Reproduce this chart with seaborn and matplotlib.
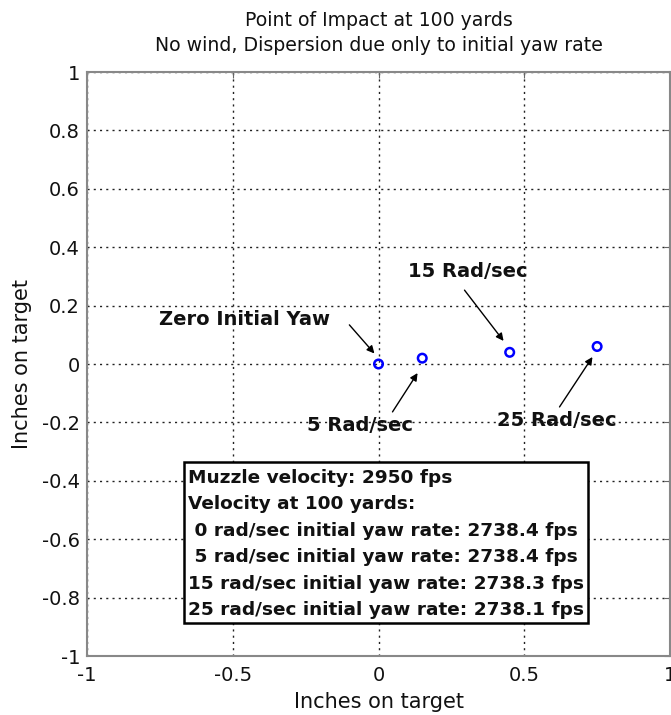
import matplotlib
matplotlib.use("Agg")
import matplotlib.pyplot as plt
import seaborn as sns
import pandas as pd
from matplotlib.ticker import FuncFormatter
from matplotlib.patches import Rectangle

# Data
yaw_rates = ["Zero Initial Yaw", "5 Rad/sec", "15 Rad/sec", "25 Rad/sec"]
x_impact = [0.0, 0.15, 0.45, 0.75]
y_impact = [0.0, 0.02, 0.04, 0.06]
x_ticks = [-1, -0.5, 0, 0.5, 1]
y_ticks = [-1, -0.8, -0.6, -0.4, -0.2, 0, 0.2, 0.4, 0.6, 0.8, 1]
box_lines = [
    "Muzzle velocity: 2950 fps",
    "Velocity at 100 yards:",
    " 0 rad/sec initial yaw rate: 2738.4 fps",
    " 5 rad/sec initial yaw rate: 2738.4 fps",
    "15 rad/sec initial yaw rate: 2738.3 fps",
    "25 rad/sec initial yaw rate: 2738.1 fps",
]

# Layout (annotation placement, data coordinates)
label_xy = [(-0.46, 0.154), (-0.062, -0.209), (0.305, 0.318), (0.611, -0.195)]
arrow_start = [(-0.10, 0.134), (0.048, -0.164), (0.295, 0.253), (0.621, -0.147)]
arrow_tip = [(-0.014, 0.036), (0.134, -0.031), (0.429, 0.079), (0.734, 0.024)]

df = pd.DataFrame({"x": x_impact, "y": y_impact, "label": yaw_rates})

sns.set_style("white")
plt.rcParams["font.family"] = ["DejaVu Sans"]

fig = plt.figure(figsize=(6.71, 7.15), dpi=100)
ax = fig.add_axes([0.1297, 0.0825, 0.8688, 0.8168])

sns.scatterplot(data=df, x="x", y="y", ax=ax, marker="o", s=38,
                facecolors="none", edgecolor="#0000ff", linewidth=1.8,
                zorder=3)

ax.set_xlim(-1, 1)
ax.set_ylim(-1, 1)
ax.set_xticks(x_ticks)
ax.set_yticks(y_ticks)
fmt = FuncFormatter(lambda v, p: f"{v:g}")
ax.xaxis.set_major_formatter(fmt)
ax.yaxis.set_major_formatter(fmt)
ax.tick_params(direction="in", length=4, labelsize=14, colors="#666666",
               labelcolor="#111111", top=True, right=True)
ax.tick_params(axis="x", pad=7)
ax.tick_params(axis="y", pad=5)
ax.grid(True, linestyle=(0, (1.5, 3)), color="#222222", linewidth=1.0)
for sp in ax.spines.values():
    sp.set_color("#888888")
    sp.set_linewidth(1.5)

ax.set_xlabel("Inches on target", fontsize=15, labelpad=5, color="#111111")
ax.set_ylabel("Inches on target", fontsize=15, labelpad=7, color="#111111")
ax.set_title("Point of Impact at 100 yards\nNo wind, Dispersion due only to initial yaw rate",
             fontsize=13.6, pad=15, linespacing=1.4, color="#111111")

for lab, (tx, ty), (sx, sy), (ex, ey) in zip(yaw_rates, label_xy, arrow_start, arrow_tip):
    ax.text(tx, ty, lab, fontsize=14, fontweight="bold", ha="center", va="center",
            zorder=4, color="#111111")
    ax.annotate("", xy=(ex, ey), xytext=(sx, sy),
                arrowprops=dict(arrowstyle="-|>", color="black", lw=1.0,
                                mutation_scale=11, shrinkA=0, shrinkB=0), zorder=4)

# Info box
box_left, box_top, box_right, box_bottom = -0.669, -0.336, 0.717, -0.887
ax.add_patch(Rectangle((box_left, box_bottom), box_right - box_left, box_top - box_bottom,
                       facecolor="white", edgecolor="black", linewidth=1.8, zorder=5))
line_y0, line_step = -0.390, -0.0905
for i, line in enumerate(box_lines):
    ax.text(box_left + 0.014, line_y0 + i * line_step, line, fontsize=13.3,
            fontweight="bold", ha="left", va="center", zorder=6, color="#111111")

fig.savefig("out.png", dpi=100)
